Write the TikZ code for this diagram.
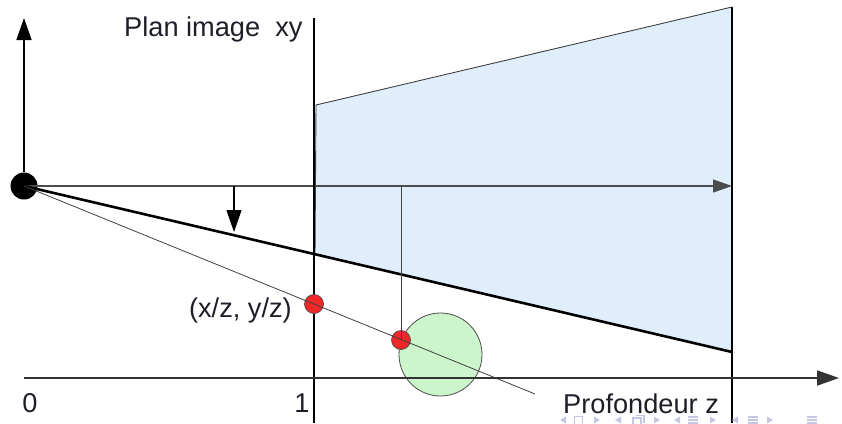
\documentclass[tikz,border=0pt]{standalone}
\usepackage{fontspec}
\setmainfont{Liberation Sans}
\usetikzlibrary{arrows.meta}
\definecolor{frustblue}{RGB}{224,238,252}
\definecolor{objgreen}{RGB}{204,245,204}
\definecolor{ptred}{RGB}{240,40,40}
\definecolor{navcol}{RGB}{196,198,228}
\definecolor{txt}{RGB}{30,30,40}
\begin{document}
\begin{tikzpicture}[x=1pt,y=-1pt,
  lbl/.style={font=\fontsize{27.2}{30}\selectfont, text=txt, inner sep=0pt},
  bigtip/.style={-{Triangle[length=22pt,width=15pt]}},
  midtip/.style={-{Triangle[length=19pt,width=13pt]}},
  thinln/.style={line width=0.8pt, black!75},
  planeln/.style={line width=1.5pt, black},
  axisln/.style={line width=1.8pt, black!80},
  reddot/.style={circle, draw=black!70, fill=ptred, minimum size=19pt, inner sep=0pt, line width=0.7pt},
  navtri/.style={fill=navcol},
  navbox/.style={draw=navcol, line width=1.2pt}
]
\useasboundingbox (0,0) rectangle (842,423);
\clip (0,0) rectangle (842,423);

% frustum
\coordinate (ftl) at (316,105);
\coordinate (ftr) at (732,7);
\coordinate (fbr) at (732,352);
\coordinate (fbl) at (315,254);
\fill[frustblue] (fbl) -- (ftl) -- (ftr) -- (fbr) -- cycle;
\draw[line width=0.9pt, black!75] (fbl) -- (ftl) -- (ftr);

% object
\node[circle, draw=black!70, fill=objgreen, minimum size=83pt, inner sep=0pt, line width=0.8pt] (obj) at (440.5,354.5) {};

% camera centre
\node[circle, fill=black, minimum size=27pt, inner sep=0pt] (cam) at (24,186) {};

% coordinates
\coordinate (vtop) at (24,18);
\coordinate (axend) at (732,186);
\coordinate (ipt) at (314,18);
\coordinate (ipb) at (314,423);
\coordinate (fpt) at (732,7);
\coordinate (fpb) at (732,423);
\coordinate (zst) at (24,378);
\coordinate (zend) at (839,378);
\coordinate (dtop) at (234,186);
\coordinate (dbot) at (234,232);
\coordinate (ptop) at (401,186);
\coordinate (rayend) at (535,394);

% optical axis and vertical axis
\draw[line width=1.2pt, black!70, midtip] (cam.center) -- (axend);
\draw[line width=1.3pt, black, bigtip] (cam.north) -- (vtop);

% planes
\draw[planeln] (ipt) -- (ipb);
\draw[planeln] (fpt) -- (fpb);

% thick frustum edge
\draw[line width=2.6pt, black] (cam.center) -- (fbr);

% down arrow
\draw[line width=1.3pt, black, bigtip] (dtop) -- (dbot);

% red points
\node[reddot] (p1) at (314,304) {};
\node[reddot] (p2) at (401,340) {};

% projection line and ray
\draw[thinln] (ptop) -- (p2.center);
\draw[thinln] (cam.center) -- (rayend);

% depth axis
\draw[axisln, bigtip] (zst) -- (zend);

% labels
\node[lbl, anchor=base west] (lplan) at (124,36) {Plan image\ \ xy};
\node[lbl, anchor=base east] (lpt) at (292,317) {(x/z, y/z)};
\node[lbl, anchor=base] (l0) at (30,412) {0};
\node[lbl, anchor=base] (l1) at (302,412) {1};
\node[lbl, anchor=base west] (lz) at (563,413) {Profondeur z};

% navigation symbols (partly cut off)
\fill[navtri] (560,420) -- (566,416.5) -- (566,423.5) -- cycle;
\draw[navbox] (574.5,416.5) rectangle (582.5,425);
\fill[navtri] (594,416.5) -- (600,420) -- (594,423.5) -- cycle;
\fill[navtri] (615,420) -- (621,416.5) -- (621,423.5) -- cycle;
\draw[navbox] (633,418) rectangle (641,426);
\draw[navbox] (636,415.5) -- (644,415.5) -- (644,423);
\fill[navtri] (654,416.5) -- (660,420) -- (654,423.5) -- cycle;
\fill[navtri] (674,420) -- (680,416.5) -- (680,423.5) -- cycle;
\foreach \yy in {417,420,423} \draw[navbox] (688,\yy) -- (698,\yy);
\fill[navtri] (710,416.5) -- (716,420) -- (710,423.5) -- cycle;
\fill[navtri] (732,420) -- (738,416.5) -- (738,423.5) -- cycle;
\foreach \yy in {417,420,423} \draw[navbox] (748,\yy) -- (758,\yy);
\fill[navtri] (767,416.5) -- (773,420) -- (767,423.5) -- cycle;
\foreach \yy in {417,420,423} \draw[navbox] (807,\yy) -- (817,\yy);
\end{tikzpicture}
\end{document}
